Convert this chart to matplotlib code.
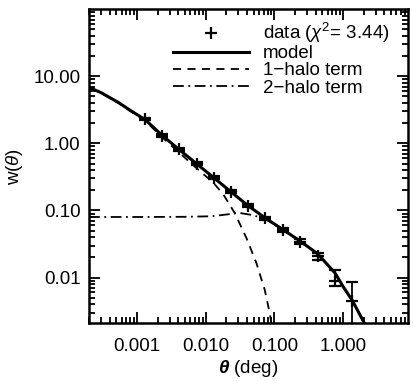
import numpy as np
import matplotlib
matplotlib.use("Agg")
import matplotlib.pyplot as plt
from matplotlib.lines import Line2D
from matplotlib.ticker import FixedLocator, LogLocator, FormatStrFormatter, NullFormatter

plt.rcParams['font.family'] = ['Liberation Sans', 'DejaVu Sans']
plt.rcParams['mathtext.fontset'] = 'custom'
plt.rcParams['mathtext.rm'] = 'Liberation Sans'
plt.rcParams['mathtext.it'] = 'Liberation Sans:italic'
plt.rcParams['mathtext.bf'] = 'Liberation Sans:bold:italic'

# measured w(theta)
theta_data = [0.00132, 0.00235, 0.0041, 0.00748, 0.0133, 0.0233, 0.0414, 0.074, 0.135, 0.24, 0.43, 0.766, 1.36]
w_data = [2.3, 1.31, 0.82, 0.50, 0.31, 0.19, 0.118, 0.077, 0.0515, 0.0345, 0.0207, 0.009, 0.0045]
w_err_lo = [0.1, 0.06, 0.04, 0.025, 0.015, 0.01, 0.007, 0.004, 0.003, 0.0025, 0.0022, 0.0014, 0.0043]
w_err_hi = [0.1, 0.06, 0.04, 0.025, 0.015, 0.01, 0.007, 0.004, 0.003, 0.0025, 0.0025, 0.0041, 0.0040]

# full model
theta_model = [2e-4, 3e-4, 5.4e-4, 8e-4, 1.32e-3, 2.35e-3, 4.1e-3, 7.5e-3, 0.0133, 0.0233, 0.0414,
               0.074, 0.135, 0.24, 0.43, 0.766, 1.0, 1.36, 1.7, 2.1]
w_model = [6.8, 5.7, 4.05, 3.1, 2.25, 1.3, 0.81, 0.49, 0.305, 0.19, 0.118,
           0.077, 0.0515, 0.0348, 0.0225, 0.0117, 0.0074, 0.0046, 0.003, 0.0020]

# 1-halo term
theta_1h = [2e-4, 3e-4, 5.4e-4, 8e-4, 1.32e-3, 2.35e-3, 4.1e-3, 7.5e-3, 0.0129, 0.018, 0.0266,
            0.0393, 0.0548, 0.0724, 0.0855, 0.0906]
w_1h = [6.72, 5.62, 3.97, 3.02, 2.17, 1.22, 0.73, 0.42, 0.26, 0.175, 0.091,
        0.0388, 0.0165, 0.0066, 0.003, 0.0021]

# 2-halo term
theta_2h = [2e-4, 1e-3, 5e-3, 0.0122, 0.0238, 0.03, 0.0465, 0.072, 0.135, 0.24, 0.43, 0.766, 1.0, 1.36, 1.7, 2.1]
w_2h = [0.080, 0.080, 0.0805, 0.082, 0.089, 0.0925, 0.086, 0.076, 0.0512, 0.0346, 0.0225, 0.0117,
        0.0074, 0.0046, 0.003, 0.0020]

fig = plt.figure(figsize=(4.13, 3.81), dpi=100)
ax = fig.add_axes([0.2155, 0.152, 0.772, 0.824])

ax.plot(theta_2h, w_2h, color='black', lw=1.3, ls=(0, (6, 2.5, 1, 2.5)))
ax.plot(theta_1h, w_1h, color='black', lw=1.3, ls=(0, (4.5, 3.5)))
ax.plot(theta_model, w_model, color='black', lw=2.2)
ax.errorbar(theta_data, w_data, yerr=[w_err_lo, w_err_hi], fmt='+', color='black',
            ms=8, mew=1.6, elinewidth=1.3, capsize=4, capthick=1.3)

ax.set_xscale('log')
ax.set_yscale('log')
ax.set_xlim(2e-4, 8.8)
ax.set_ylim(0.0021, 100)

ax.xaxis.set_major_locator(FixedLocator([0.001, 0.01, 0.1, 1.0]))
ax.xaxis.set_major_formatter(FormatStrFormatter('%.3f'))
ax.yaxis.set_major_locator(FixedLocator([0.01, 0.1, 1.0, 10.0]))
ax.yaxis.set_major_formatter(FormatStrFormatter('%.2f'))
for a in (ax.xaxis, ax.yaxis):
    a.set_minor_locator(LogLocator(base=10, subs=np.arange(2, 10), numticks=20))
    a.set_minor_formatter(NullFormatter())

ax.tick_params(which='both', direction='in', top=True, right=True, labelsize=13.5, width=1.3)
ax.tick_params(axis='x', which='major', length=8, pad=11)
ax.tick_params(axis='y', which='major', length=8, pad=6)
ax.tick_params(which='minor', length=4)
for s in ax.spines.values():
    s.set_linewidth(1.8)

ax.set_xlabel(r'$\mathbf{\theta}$ (deg)', fontsize=13.5, labelpad=2)
ax.set_ylabel(r'w($\theta$)', fontsize=13.5, labelpad=6)

handles = [
    Line2D([], [], color='black', marker='+', ls='none', ms=8, mew=1.6),
    Line2D([], [], color='black', lw=2.2),
    Line2D([], [], color='black', lw=1.3, ls=(0, (4.5, 3.5))),
    Line2D([], [], color='black', lw=1.3, ls=(0, (6, 2.5, 1, 2.5))),
]
labels = [r'data ($\chi^2$= 3.44)', 'model', '1\u2212halo term', '2\u2212halo term']
ax.legend(handles, labels, loc='upper left', bbox_to_anchor=(0.262, 0.962), frameon=False,
          fontsize=13.5, handlelength=4.1, handletextpad=0.7, labelspacing=0.0, borderaxespad=0.0,
          borderpad=0.0)

fig.savefig('out.png', dpi=100)
